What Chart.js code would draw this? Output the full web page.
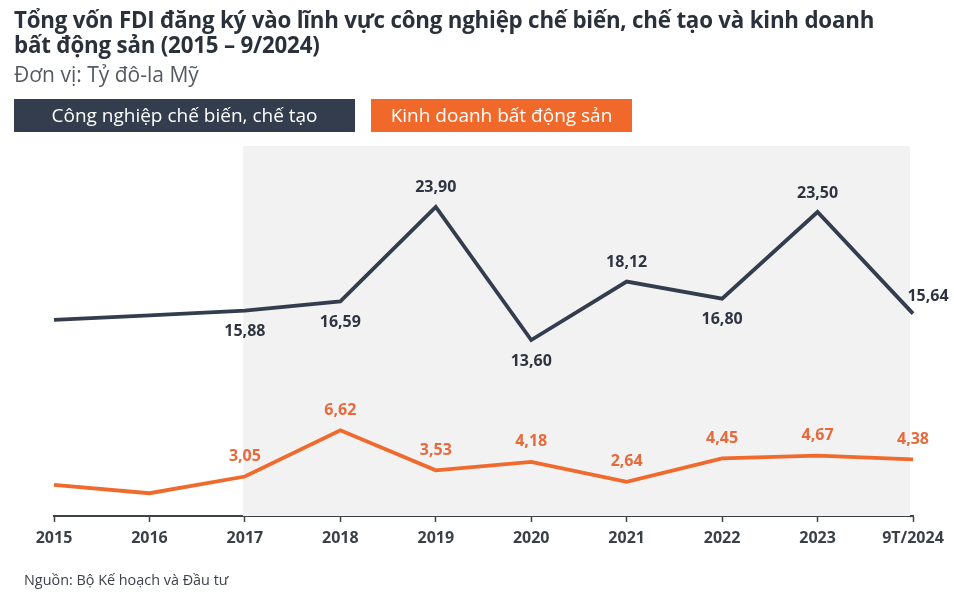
<!DOCTYPE html>
<html>
<head>
<meta charset="utf-8">
<script src="https://cdn.jsdelivr.net/npm/chart.js@4"></script>
<style>
  html, body { margin: 0; padding: 0; background: #fff; }
  body { width: 954px; height: 598px; position: relative; overflow: hidden; font-family: "Open Sans", sans-serif; }
  #title { position: absolute; left: 14px; top: 7px; font-size: 22.3px; font-weight: 700; line-height: 25px; color: #2b313b; letter-spacing: -0.2px; }
  #unit { position: absolute; left: 14px; top: 60px; font-size: 21px; color: #555a62; }
  .leg { position: absolute; top: 99px; height: 33px; line-height: 33px; color: #fff; font-size: 19px; text-align: center; }
  #leg1 { left: 14px; width: 341px; background: #333d4d; }
  #leg2 { left: 371px; width: 261px; background: #f0692a; }
  #src { position: absolute; left: 24px; top: 570px; font-size: 14.4px; color: #3d424a; }
  #chart { position: absolute; left: 0; top: 0; }
</style>
</head>
<body>
<canvas id="chart" width="954" height="598"></canvas>
<div id="title">Tổng vốn FDI đăng ký vào lĩnh vực công nghiệp chế biến, chế tạo và kinh doanh<br>bất động sản (2015 – 9/2024)</div>
<div id="unit">Đơn vị: Tỷ đô-la Mỹ</div>
<div class="leg" id="leg1">Công nghiệp chế biến, chế tạo</div>
<div class="leg" id="leg2">Kinh doanh bất động sản</div>
<div id="src">Nguồn: Bộ Kế hoạch và Đầu tư</div>
<script>
const years = ["2015", "2016", "2017", "2018", "2019", "2020", "2021", "2022", "2023", "9T/2024"];
const manufacturing = [15.16, 15.51, 15.88, 16.59, 23.90, 13.60, 18.12, 16.80, 23.50, 15.64];
const realEstate = [2.40, 1.76, 3.05, 6.62, 3.53, 4.18, 2.64, 4.45, 4.67, 4.38];
// labels shown only from 2017 onwards; "below" marks where dark labels sit under the point
const manuLabels = ["", "", "15,88", "16,59", "23,90", "13,60", "18,12", "16,80", "23,50", "15,64"];
const manuBelow = [false, false, true, true, false, true, false, true, false, false];
const realLabels = ["", "", "3,05", "6,62", "3,53", "4,18", "2,64", "4,45", "4,67", "4,38"];

const darkColor = "#333d4d";
const orangeColor = "#ef6a2c";

const shadePlugin = {
  id: "shade",
  beforeDatasetsDraw(chart) {
    const { ctx, scales } = chart;
    const x = scales.x, y = scales.y;
    const left = x.getPixelForValue(2) - 2;
    const right = x.getPixelForValue(years.length - 1) - 3;
    const top = y.getPixelForValue(y.max);
    const bottom = y.getPixelForValue(0);
    ctx.save();
    ctx.fillStyle = "#f2f2f2";
    ctx.fillRect(left, top, right - left, bottom - top);
    ctx.restore();
  }
};

const labelPlugin = {
  id: "valueLabels",
  afterDatasetsDraw(chart) {
    const { ctx } = chart;
    ctx.save();
    ctx.font = "bold 16px 'Open Sans'";
    ctx.textAlign = "center";
    ctx.textBaseline = "middle";
    const m0 = chart.getDatasetMeta(0);
    m0.data.forEach((pt, i) => {
      if (!manuLabels[i]) return;
      ctx.fillStyle = "#2e3440";
      let dx = 0, dy = manuBelow[i] ? 21 : -19;
      if (i === years.length - 1) { dx = 15; dy = -17; }
      ctx.fillText(manuLabels[i], pt.x + dx, pt.y + dy);
    });
    const m1 = chart.getDatasetMeta(1);
    m1.data.forEach((pt, i) => {
      if (!realLabels[i]) return;
      ctx.fillStyle = "#e86a3c";
      ctx.fillText(realLabels[i], pt.x, pt.y - 20);
    });
    ctx.restore();
  }
};

new Chart(document.getElementById("chart"), {
  type: "line",
  data: {
    labels: years,
    datasets: [
      {
        label: "Công nghiệp chế biến, chế tạo",
        data: manufacturing,
        borderColor: darkColor,
        backgroundColor: darkColor,
        borderWidth: 3.8,
        borderJoinStyle: "miter",
        pointRadius: 0,
        tension: 0,
      },
      {
        label: "Kinh doanh bất động sản",
        data: realEstate,
        borderColor: orangeColor,
        backgroundColor: orangeColor,
        borderWidth: 3.8,
        borderJoinStyle: "miter",
        pointRadius: 0,
        tension: 0,
      },
    ],
  },
  options: {
    responsive: false,
    animation: false,
    devicePixelRatio: 1,
    layout: { padding: { left: 54, right: 41, top: 146, bottom: 0 } },
    plugins: { legend: { display: false }, tooltip: { enabled: false } },
    scales: {
      x: {
        offset: false,
        grid: { display: true, drawOnChartArea: false, tickLength: 6, tickColor: "#3d424a", tickWidth: 1.5 },
        border: { display: true, color: "#3d424a", width: 2 },
        ticks: { color: "#3a3f48", font: { family: "Open Sans", size: 16, weight: "bold" }, padding: 7, maxRotation: 0, autoSkip: false },
        afterFit(scale) { scale.height = 82; },
      },
      y: {
        display: false,
        min: 0,
        max: 28.6,
      },
    },
  },
  plugins: [shadePlugin, labelPlugin],
});
</script>
</body>
</html>
